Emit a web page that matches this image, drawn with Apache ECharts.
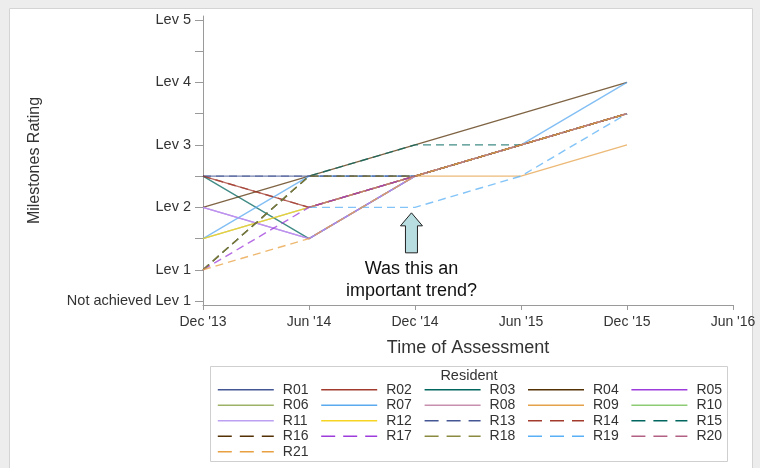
<!DOCTYPE html>
<html><head><meta charset="utf-8">
<script src="https://cdn.jsdelivr.net/npm/echarts@6/dist/echarts.min.js"></script>
<style>html,body{margin:0;padding:0;background:#ededed;}#c{width:760px;height:468px;}</style>
</head><body><div id="c"></div>
<script>
// Time points (months after Dec 2013) and tick labels
const timeLabels = ["Dec '13", "Jun '14", "Dec '14", "Jun '15", "Dec '15", "Jun '16"];
const timeMonths = [0, 6, 12, 18, 24, 30];
// Y axis ticks / labels
const yTickValues = [0.5, 1, 1.5, 2, 2.5, 3, 3.5, 4, 4.5, 5];
const yLabelValues = [0.5, 1, 2, 3, 4, 5];
const yLabelTexts = ["Not achieved Lev 1", "Lev 1", "Lev 2", "Lev 3", "Lev 4", "Lev 5"];
// Residents' ratings at Dec '13, Jun '14, Dec '14, Jun '15, Dec '15 (null = not assessed)
const R01 = [2.5, 2.5, 2.5, null, null];
const R02 = [2.5, 2.0, 2.5, null, 3.5];
const R03 = [2.5, 1.5, 2.5, null, 3.5];
const R04 = [2.0, 2.5, 3.0, 3.5, 4.0];
const R05 = [2.0, 1.5, 2.5, null, 3.5];
const R06 = [1.5, 2.0, 2.5, null, 3.5];
const R07 = [1.5, 2.5, 2.5, 3.0, 4.0];
const R08 = [null, 2.0, 2.5, null, 3.5];
const R09 = [null, null, 2.5, 2.5, 3.0];
const R10 = [null, null, 2.5, 3.0, 3.5];
const R11 = [2.0, 1.5, 2.5, null, 3.5];
const R12 = [1.5, 2.0, 2.5, 3.0, 3.5];
const R13 = [2.5, 2.5, 2.5, null, null];
const R14 = [2.5, 2.0, 2.5, null, 3.5];
const R15 = [1.0, 2.5, 3.0, 3.0, null];
const R16 = [1.0, 2.5, 2.5, 3.0, 3.5];
const R17 = [1.0, 2.0, 2.5, null, 3.5];
const R18 = [1.0, 2.5, 2.5, 3.0, 3.5];
const R19 = [null, 2.0, 2.0, 2.5, 3.5];
const R20 = [null, 2.0, 2.5, null, 3.5];
const R21 = [1.0, 1.5, 2.5, null, 3.5];
const residentNames = ["R01","R02","R03","R04","R05","R06","R07","R08","R09","R10","R11","R12","R13","R14","R15","R16","R17","R18","R19","R20","R21"];
const residentValues = [R01,R02,R03,R04,R05,R06,R07,R08,R09,R10,R11,R12,R13,R14,R15,R16,R17,R18,R19,R20,R21];
const palette = ["#445694","#A23A2E","#01665E","#543005","#9D3CDB","#9DB266","#5AAAF0","#C98FAE","#E6A24A","#8DCC74","#BCA0F2","#F5D422"];
const dashedPalette = ["#445694","#A23A2E","#01665E","#543005","#9D3CDB","#8A8A40","#5AB0F5","#B26084","#E8A040"];

const FONT = "'Liberation Sans', Arial, sans-serif";
const chart = echarts.init(document.getElementById('c'), null, {renderer: 'canvas'});

const series = residentNames.map((name, i) => {
  const dashed = i >= 12;
  const color = dashed ? dashedPalette[i - 12] : palette[i];
  const vals = residentValues[i];
  const data = [];
  vals.forEach((v, k) => { if (v !== null) data.push([timeMonths[k], v]); });
  return {
    name: name, type: 'line', data: data, symbol: 'none', silent: true,
    lineStyle: {color: color, width: 1.4, type: dashed ? [8, 5] : 'solid', opacity: 0.75},
    itemStyle: {color: color},
    animation: false
  };
});

const legendData = residentNames.map((name, i) => ({
  name: name,
  itemStyle: {opacity: 0},
  lineStyle: {type: i >= 12 ? [14, 8] : 'solid', width: 1.6, opacity: 1}
}));

chart.setOption({
  backgroundColor: '#ededed',
  animation: false,
  grid: {left: 203, right: 27, top: 16, bottom: 163, containLabel: false},
  xAxis: {
    type: 'value', min: 0, max: 30, interval: 6,
    name: 'Time of Assessment', nameLocation: 'middle', nameGap: 34,
    nameTextStyle: {fontFamily: FONT, fontSize: 18, color: '#333'},
    axisLine: {show: true, lineStyle: {color: '#9a9a9a', width: 1}},
    axisTick: {show: true, length: 5, lineStyle: {color: '#9a9a9a'}},
    axisLabel: {fontFamily: FONT, fontSize: 14, color: '#333', margin: 10,
      formatter: v => timeLabels[timeMonths.indexOf(v)] || ''},
    splitLine: {show: false}
  },
  yAxis: {
    type: 'value', min: 0.436, max: 5.064,
    name: 'Milestones Rating', nameLocation: 'middle', nameGap: 160, nameRotate: 90,
    nameTextStyle: {fontFamily: FONT, fontSize: 16, color: '#333'},
    axisLine: {show: true, lineStyle: {color: '#9a9a9a', width: 1}},
    axisTick: {show: true, length: 8, customValues: yTickValues, lineStyle: {color: '#9a9a9a'}},
    axisLabel: {fontFamily: FONT, fontSize: 14.5, color: '#333', margin: 12,
      customValues: yLabelValues,
      formatter: v => { const k = yLabelValues.findIndex(x => Math.abs(x - v) < 1e-6); return k >= 0 ? yLabelTexts[k] : ''; }},
    splitLine: {show: false}
  },
  legend: {
    data: legendData, left: 217, top: 382, width: 540,
    orient: 'horizontal', itemWidth: 56, itemHeight: 2, itemGap: 0,
    itemStyle: {opacity: 0},
    textStyle: {fontFamily: FONT, fontSize: 14, color: '#333', width: 37.6, lineHeight: 15.5, padding: [0, 0, 0, 4]},
    selectedMode: false, padding: 0
  },
  series: series
});

// Decorations: page panel, legend frame & title, annotation arrow + text
function drawGraphics() {
  const tip = chart.convertToPixel({xAxisIndex: 0, yAxisIndex: 0}, [11.8, 1.96]);
  const x = tip[0], y = tip[1] + 3;
  chart.setOption({graphic: [
    {type: 'rect', z: -10, silent: true, shape: {x: 9.5, y: 8.5, width: 743, height: 470},
      style: {fill: '#ffffff', stroke: '#d4d4d4', lineWidth: 1}},
    {type: 'rect', z: -5, silent: true, shape: {x: 210.5, y: 366.5, width: 517, height: 95},
      style: {fill: '#ffffff', stroke: '#cfcfcf', lineWidth: 1}},
    {type: 'text', silent: true, x: 469, y: 376,
      style: {text: 'Resident', fontFamily: FONT, fontSize: 14.5, fill: '#333', align: 'center', verticalAlign: 'middle'}},
    {type: 'polygon', silent: true, z: 10,
      shape: {points: [[x, y], [x + 11, y + 13], [x + 6, y + 13], [x + 6, y + 40], [x - 6, y + 40], [x - 6, y + 13], [x - 11, y + 13]]},
      style: {fill: '#B7DDE0', stroke: '#222', lineWidth: 1}},
    {type: 'text', silent: true, z: 10, x: x, y: y + 56,
      style: {text: 'Was this an', fontFamily: FONT, fontSize: 18, fill: '#111', align: 'center', verticalAlign: 'middle'}},
    {type: 'text', silent: true, z: 10, x: x, y: y + 78,
      style: {text: 'important trend?', fontFamily: FONT, fontSize: 18, fill: '#111', align: 'center', verticalAlign: 'middle'}}
  ]});
}
drawGraphics();
</script></body></html>
